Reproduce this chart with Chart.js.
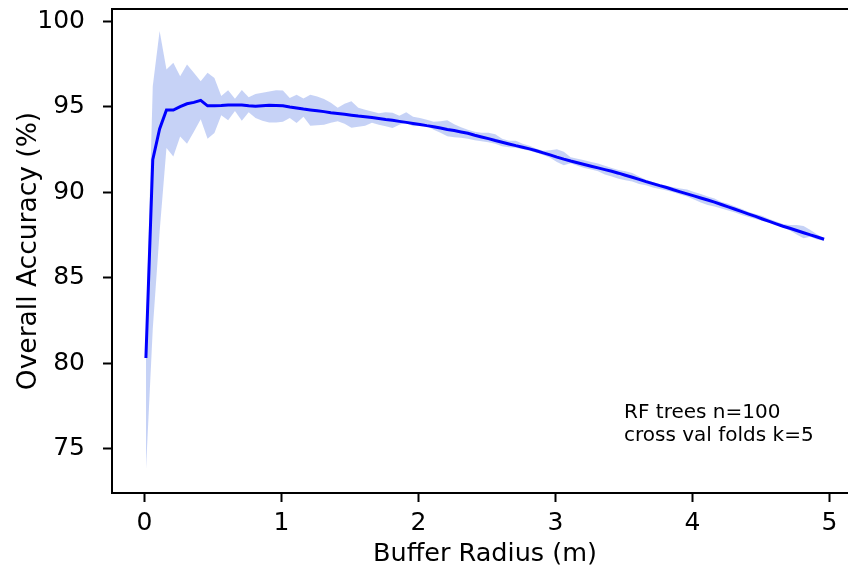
<!DOCTYPE html>
<html>
<head>
<meta charset="utf-8">
<script src="https://cdn.jsdelivr.net/npm/chart.js@4.4.1/dist/chart.umd.min.js"></script>
<style>
  html, body { margin: 0; padding: 0; background: #fff; overflow: hidden; }
  #wrap { width: 848px; height: 572px; overflow: hidden; }
</style>
</head>
<body>
<div id="wrap"><canvas id="chart" width="860" height="572"></canvas></div>
<script>
// buffer radius (m)
const bufferRadius = [
  0.01, 0.06, 0.11, 0.16, 0.21, 0.26, 0.31, 0.36, 0.41, 0.46,
  0.51, 0.56, 0.61, 0.66, 0.71, 0.76, 0.81, 0.86, 0.91, 0.96,
  1.01, 1.06, 1.11, 1.16, 1.21, 1.26, 1.31, 1.36, 1.41, 1.46,
  1.51, 1.56, 1.61, 1.66, 1.71, 1.76, 1.81, 1.86, 1.91, 1.96,
  2.01, 2.06, 2.11, 2.16, 2.21, 2.26, 2.31, 2.36, 2.41, 2.46,
  2.51, 2.56, 2.61, 2.66, 2.71, 2.76, 2.81, 2.86, 2.91, 2.96,
  3.01, 3.06, 3.11, 3.16, 3.21, 3.26, 3.31, 3.36, 3.41, 3.46,
  3.51, 3.56, 3.61, 3.66, 3.71, 3.76, 3.81, 3.86, 3.91, 3.96,
  4.01, 4.06, 4.11, 4.16, 4.21, 4.26, 4.31, 4.36, 4.41, 4.46,
  4.51, 4.56, 4.61, 4.66, 4.71, 4.76, 4.81, 4.86, 4.91, 4.96
];

// mean overall accuracy (%)
const meanAccuracy = [
  80.3, 91.9, 93.7, 94.8, 94.8, 95.0, 95.17, 95.25, 95.37, 95.05,
  95.05, 95.07, 95.1, 95.1, 95.1, 95.05, 95.02, 95.05, 95.08, 95.07,
  95.05, 94.98, 94.92, 94.86, 94.81, 94.76, 94.71, 94.65, 94.60, 94.55,
  94.50, 94.45, 94.41, 94.36, 94.31, 94.25, 94.20, 94.14, 94.08, 94.02,
  93.96, 93.89, 93.83, 93.75, 93.67, 93.60, 93.52, 93.44, 93.33, 93.23,
  93.13, 93.02, 92.92, 92.82, 92.72, 92.63, 92.53, 92.42, 92.30, 92.18,
  92.05, 91.93, 91.82, 91.72, 91.62, 91.52, 91.42, 91.32, 91.22, 91.11,
  90.99, 90.87, 90.75, 90.62, 90.50, 90.38, 90.27, 90.14, 90.02, 89.90,
  89.78, 89.66, 89.54, 89.42, 89.28, 89.14, 89.00, 88.86, 88.72, 88.58,
  88.43, 88.29, 88.15, 88.01, 87.89, 87.76, 87.63, 87.50, 87.38, 87.25
];

// upper edge of the shaded spread
const upperAccuracy = [
  81.5, 96.2, 99.42, 97.17, 97.56, 96.78, 97.46, 96.98, 96.48, 96.98,
  96.68, 95.62, 95.96, 95.46, 95.98, 95.55, 95.74, 95.82, 95.88, 95.96,
  95.94, 95.51, 95.70, 95.47, 95.70, 95.59, 95.45, 95.23, 94.94, 95.17,
  95.31, 94.94, 94.82, 94.71, 94.62, 94.68, 94.65, 94.47, 94.67, 94.41,
  94.33, 94.24, 94.12, 94.15, 94.20, 93.97, 93.80, 93.65, 93.53, 93.48,
  93.48, 93.39, 93.12, 93.01, 93.01, 92.83, 92.71, 92.54, 92.42, 92.45,
  92.51, 92.36, 92.04, 91.95, 91.86, 91.77, 91.67, 91.54, 91.42, 91.30,
  91.22, 91.12, 90.92, 90.72, 90.60, 90.48, 90.37, 90.29, 90.21, 90.16,
  90.01, 89.90, 89.75, 89.63, 89.43, 89.32, 89.16, 89.01, 88.84, 88.72,
  88.61, 88.43, 88.29, 88.14, 88.08, 88.08, 88.02, 87.79, 87.53, 87.30
];

// lower edge of the shaded spread
const lowerAccuracy = [
  73.7, 82.0, 87.69, 92.58, 92.09, 93.26, 92.83, 93.53, 94.27, 93.12,
  93.46, 94.50, 94.21, 94.74, 94.18, 94.68, 94.34, 94.18, 94.08, 94.08,
  94.12, 94.34, 94.04, 94.41, 93.89, 93.91, 93.94, 94.06, 94.14, 94.00,
  93.77, 93.83, 93.89, 94.06, 93.94, 93.86, 93.75, 93.94, 94.06, 93.86,
  93.89, 93.89, 93.65, 93.48, 93.27, 93.21, 93.18, 93.12, 93.04, 92.98,
  92.92, 92.83, 92.68, 92.62, 92.60, 92.51, 92.42, 92.30, 92.18, 92.01,
  91.77, 91.57, 91.69, 91.54, 91.42, 91.33, 91.22, 91.04, 90.92, 90.78,
  90.69, 90.62, 90.48, 90.40, 90.28, 90.19, 90.10, 89.99, 89.87, 89.75,
  89.57, 89.40, 89.25, 89.16, 89.04, 88.93, 88.81, 88.67, 88.55, 88.43,
  88.31, 88.21, 88.08, 87.95, 87.76, 87.53, 87.31, 87.40, 87.23, 87.16
];

const xTicks = [0, 1, 2, 3, 4, 5];
const yTicks = [75, 80, 85, 90, 95, 100];
const noteLines = ['RF trees n=100', 'cross val folds k=5'];

const toPoints = vals => vals.map((v, i) => ({ x: bufferRadius[i], y: v }));

Chart.defaults.font.family = '"DejaVu Sans"';
Chart.defaults.color = '#000';

// plot box runs a little past the right edge of the picture
const X_MIN = -0.2375, X_MAX = 5.2075;

const notePlugin = {
  id: 'note',
  afterDraw(chart) {
    const { ctx, scales: { x, y } } = chart;
    ctx.save();
    ctx.font = '20px "DejaVu Sans"';
    ctx.fillStyle = '#000';
    ctx.textBaseline = 'middle';
    const x0 = x.getPixelForValue(3.5);
    const y0 = y.getPixelForValue(77.1);
    noteLines.forEach((t, k) => ctx.fillText(t, x0, y0 + k * 23.5));
    ctx.restore();
  }
};

const axisGrid = {
  drawOnChartArea: false,
  drawTicks: true,
  tickLength: 9,
  tickWidth: 2,
  tickColor: '#000'
};

// keep the plot box fixed, whatever room the tick labels ask for
const fixBox = (w, h) => s => {
  if (w != null) s.width = w;
  if (h != null) s.height = h;
  s.paddingTop = 0; s.paddingBottom = 0;
  s.paddingLeft = 0; s.paddingRight = 0;
};

new Chart(document.getElementById('chart'), {
  type: 'line',
  data: {
    datasets: [
      {
        label: 'mean',
        data: toPoints(meanAccuracy),
        borderColor: '#0000ff',
        borderWidth: 3,
        pointRadius: 0,
        tension: 0,
        fill: false
      },
      {
        label: 'upper',
        data: toPoints(upperAccuracy),
        borderWidth: 0,
        borderColor: 'rgba(0,0,0,0)',
        backgroundColor: 'rgba(65,105,225,0.3)',
        pointRadius: 0,
        tension: 0,
        fill: '+1'
      },
      {
        label: 'lower',
        data: toPoints(lowerAccuracy),
        borderWidth: 0,
        borderColor: 'rgba(0,0,0,0)',
        pointRadius: 0,
        tension: 0,
        fill: false
      }
    ]
  },
  options: {
    responsive: false,
    animation: false,
    devicePixelRatio: 1,
    layout: { padding: { left: 0, top: 0, bottom: 0, right: 2 } },
    plugins: {
      legend: { display: false },
      tooltip: { enabled: false }
    },
    scales: {
      x: {
        type: 'linear',
        position: 'bottom',
        min: X_MIN,
        max: X_MAX,
        afterBuildTicks: s => { s.ticks = xTicks.map(v => ({ value: v })); },
        afterFit: fixBox(null, 79),
        grid: axisGrid,
        border: { display: true, color: '#000', width: 2 },
        ticks: { font: { size: 25 }, padding: 6, maxRotation: 0, color: '#000' },
        title: { display: true, text: 'Buffer Radius (m)', font: { size: 25.5 }, padding: { top: 0, bottom: 2 } }
      },
      x2: {
        type: 'linear',
        position: 'top',
        min: X_MIN,
        max: X_MAX,
        afterFit: fixBox(null, 9),
        ticks: { display: false },
        grid: { drawOnChartArea: false, drawTicks: false },
        border: { display: true, color: '#000', width: 2 }
      },
      y: {
        type: 'linear',
        min: 72.41,
        max: 100.71,
        afterBuildTicks: s => { s.ticks = yTicks.map(v => ({ value: v })); },
        afterFit: fixBox(112, null),
        grid: axisGrid,
        border: { display: true, color: '#000', width: 2 },
        ticks: { font: { size: 25 }, padding: 18, color: '#000' },
        title: { display: true, text: 'Overall Accuracy (%)', font: { size: 26.5 }, padding: { top: 13, bottom: 0 } }
      }
    }
  },
  plugins: [notePlugin]
});
</script>
</body>
</html>
